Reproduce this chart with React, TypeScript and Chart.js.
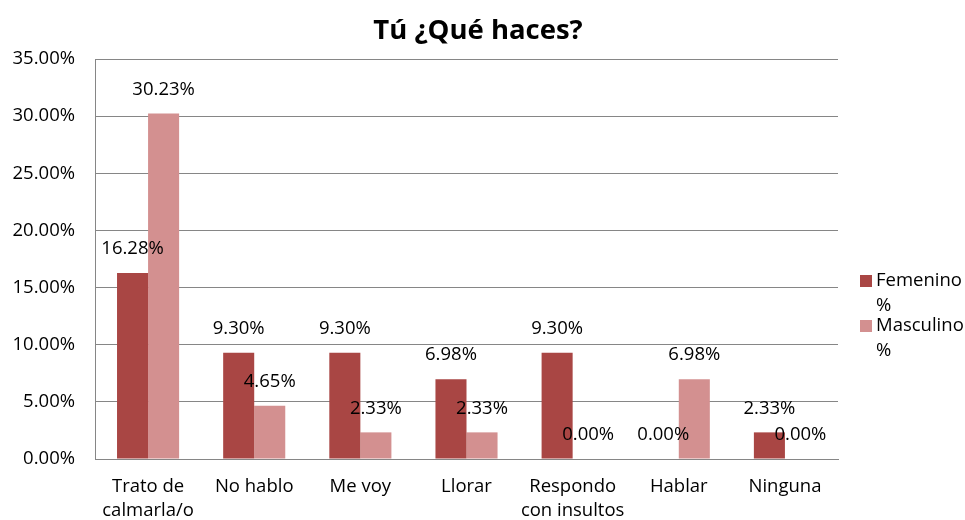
import React, { useEffect, useRef } from "react";
import { Chart, registerables } from "chart.js";

Chart.register(...registerables);

const categories: (string | string[])[] = [
  ["Trato de", "calmarla/o"],
  "No hablo",
  "Me voy",
  "Llorar",
  ["Respondo", "con insultos"],
  "Hablar",
  "Ninguna",
];
const femenino = [16.28, 9.3, 9.3, 6.98, 9.3, 0.0, 2.33];
const masculino = [30.23, 4.65, 2.33, 2.33, 0.0, 6.98, 0.0];
const seriesNames = [["Femenino", "%"], ["Masculino", "%"]];
const colors = ["#A94644", "#D39090"];
const title = "Tú ¿Qué haces?";

const FONT = "'Open Sans', sans-serif";
const FS = 18.5;

const labelsPlugin = {
  id: "valueLabels",
  afterDatasetsDraw(chart: any) {
    const ctx = chart.ctx;
    ctx.save();
    ctx.font = `${FS}px ${FONT}`;
    ctx.fillStyle = "#000";
    ctx.textAlign = "center";
    ctx.textBaseline = "middle";
    chart.data.datasets.forEach((ds: any, di: number) => {
      const meta = chart.getDatasetMeta(di);
      meta.data.forEach((bar: any, i: number) => {
        const v = ds.data[i];
        ctx.fillText(v.toFixed(2) + "%", bar.x, bar.y - 24);
      });
    });
    ctx.restore();
  },
};

const titleLegendPlugin = {
  id: "titleLegend",
  afterDraw(chart: any) {
    const ctx = chart.ctx;
    ctx.save();
    ctx.fillStyle = "#000";
    ctx.font = `bold 27.5px ${FONT}`;
    ctx.textAlign = "center";
    ctx.textBaseline = "middle";
    ctx.fillText(title, 478, 31);
    // legend
    ctx.font = `${FS}px ${FONT}`;
    ctx.textAlign = "left";
    const x0 = chart.chartArea.right + 22;
    const ys = [281, 326];
    seriesNames.forEach((lines, i) => {
      ctx.fillStyle = colors[i];
      ctx.fillRect(x0, ys[i] - 6, 12, 12);
      ctx.fillStyle = "#000";
      lines.forEach((ln, j) => {
        ctx.fillText(ln, x0 + 16, ys[i] + j * 25);
      });
    });
    ctx.restore();
  },
};

export default function App() {
  const ref = useRef<HTMLCanvasElement>(null);
  useEffect(() => {
    if (!ref.current) return;
    const chart = new Chart(ref.current, {
      type: "bar",
      data: {
        labels: categories,
        datasets: [
          { label: "Femenino %", data: femenino, backgroundColor: colors[0] },
          { label: "Masculino %", data: masculino, backgroundColor: colors[1] },
        ],
      },
      options: {
        animation: false,
        responsive: false,
        maintainAspectRatio: false,
        layout: { padding: { top: 59, right: 127, left: 0, bottom: 0 } },
        datasets: {
          bar: { categoryPercentage: 0.585, barPercentage: 1 },
        },
        plugins: {
          legend: { display: false },
          title: { display: false },
          tooltip: { enabled: false },
        },
        scales: {
          x: {
            afterFit: (s: any) => {
              s.height = 61;
            },
            grid: { display: false, drawTicks: false },
            border: { display: true, color: "#868686", width: 1 },
            ticks: {
              color: "#000",
              font: { family: FONT, size: FS, lineHeight: 1.3 },
              padding: 16,
              maxRotation: 0,
              autoSkip: false,
            },
          },
          y: {
            min: 0,
            max: 35,
            afterFit: (s: any) => {
              s.width = 95;
            },
            grid: { color: "#868686", drawTicks: false },
            border: { display: true, color: "#868686", width: 1 },
            ticks: {
              stepSize: 5,
              color: "#000",
              font: { family: FONT, size: FS },
              padding: 20,
              callback: (v: any) => Number(v).toFixed(2) + "%",
            },
          },
        },
      },
      plugins: [labelsPlugin, titleLegendPlugin],
    });
    return () => chart.destroy();
  }, []);
  return (
    <div style={{ position: "fixed", left: 0, top: 0, width: 965, height: 520, background: "#fff" }}>
      <canvas ref={ref} width={965} height={520} style={{ width: 965, height: 520 }} />
    </div>
  );
}
